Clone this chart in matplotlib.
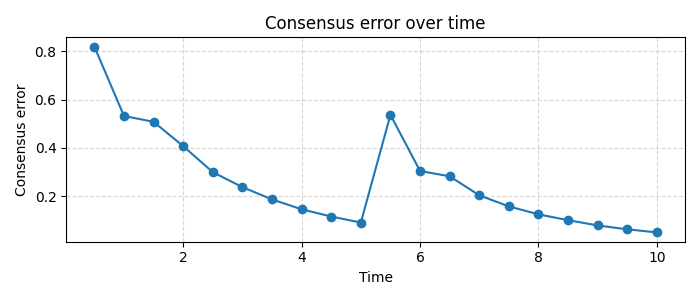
import numpy as np
import matplotlib
matplotlib.use('Agg')
import matplotlib.pyplot as plt

# consensus error
time = [0.5, 1.0, 1.5, 2.0, 2.5, 3.0, 3.5, 4.0, 4.5, 5.0,
        5.5, 6.0, 6.5, 7.0, 7.5, 8.0, 8.5, 9.0, 9.5, 10.0]
error = [0.820, 0.532, 0.508, 0.407, 0.299, 0.237, 0.186, 0.145, 0.115, 0.090,
         0.537, 0.304, 0.282, 0.203, 0.157, 0.124, 0.100, 0.078, 0.062, 0.049]

fig, ax = plt.subplots(figsize=(7, 3), dpi=100)
ax.plot(time, error, marker='o', color='#1f77b4')
ax.set_title('Consensus error over time')
ax.set_xlabel('Time')
ax.set_ylabel('Consensus error')
ax.grid(True, linestyle='--', alpha=0.5)
ax.set_xticks([2, 4, 6, 8, 10])
ax.set_yticks([0.2, 0.4, 0.6, 0.8])
plt.tight_layout()
plt.savefig('out.png')
